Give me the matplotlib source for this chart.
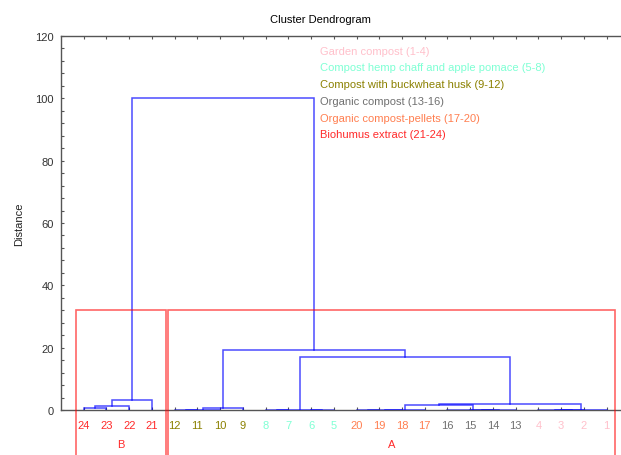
import matplotlib
matplotlib.use("Agg")
import matplotlib.pyplot as plt
from matplotlib.patches import Rectangle

plt.rcParams["font.family"] = ["Liberation Sans", "DejaVu Sans"]

# Leaf order along the x axis (sample numbers)
leaf_order = [24, 23, 22, 21, 12, 11, 10, 9, 8, 7, 6, 5,
              20, 19, 18, 17, 16, 15, 14, 13, 4, 3, 2, 1]

# Agglomeration steps: (new cluster, left child, right child, merge distance)
merge_names = ["b1", "b2", "B", "k1", "k2", "K", "h1", "h2", "H",
               "p1", "p2", "P", "o1", "o2", "O", "g1", "g2", "G",
               "PO", "POG", "HPOG", "A", "root"]
merge_left = [24, "b1", "b2", 12, "k1", "k2", 8, 6, "h1",
              20, "p1", "p2", 15, "o1", 16, 3, 4, "g2",
              "P", "PO", "H", "K", "B"]
merge_right = [23, 22, 21, 11, 10, 9, 7, 5, "h2",
               19, 18, 17, 14, 13, "o2", 2, "g1", 1,
               "O", "G", "POG", "HPOG", "A"]
merge_height = [0.8, 1.2, 3.3, 0.0, 0.15, 0.6, 0.0, 0.0, 0.12,
                0.0, 0.0, 0.12, 0.0, 0.0, 0.0, 0.0, 0.0, 0.12,
                1.7, 1.85, 16.9, 19.1, 100.0]

# Sample groups
group_names = ["Garden compost (1-4)",
               "Compost hemp chaff and apple pomace (5-8)",
               "Compost with buckwheat husk (9-12)",
               "Organic compost (13-16)",
               "Organic compost-pellets (17-20)",
               "Biohumus extract (21-24)"]
group_members = [[1, 2, 3, 4], [5, 6, 7, 8], [9, 10, 11, 12],
                 [13, 14, 15, 16], [17, 18, 19, 20], [21, 22, 23, 24]]
group_colors = ["#ffc0cb", "#7fffd4", "#8b8000", "#707070", "#ff7f50", "#ff2a2a"]

# Cut-level clusters shown as boxes
cut_height = 32.2
box_labels = ["B", "A"]
box_left = [0.67, 4.7]
box_right = [4.6, 24.37]

W, H = 621, 456
fig = plt.figure(figsize=(W / 100, H / 100), dpi=100)
ax = fig.add_axes([61 / W, 45 / H, 568.3 / W, 374 / H])

# positions and heights of leaves / clusters
pos = {leaf: i + 1 for i, leaf in enumerate(leaf_order)}
hgt = {leaf: 0.0 for leaf in leaf_order}
for name, l, r, h in zip(merge_names, merge_left, merge_right, merge_height):
    xl, xr = pos[l], pos[r]
    ax.plot([xl, xl, xr, xr], [hgt[l], h, h, hgt[r]],
            color="blue", alpha=0.7, lw=1.1,
            zorder=3 if h > 0 else 2, solid_joinstyle="miter")
    pos[name] = (xl + xr) / 2
    hgt[name] = h

# red cluster boxes extending below the axis
for lab, x0, x1 in zip(box_labels, box_left, box_right):
    ax.add_patch(Rectangle((x0, -30), x1 - x0, cut_height + 30, fill=False,
                           edgecolor="red", alpha=0.6, lw=1.2,
                           clip_on=False, zorder=4))
    ax.text((x0 + x1) / 2, -10.9, lab, color="#ff2a2a", fontsize=8,
            ha="center", va="center", clip_on=False)

ax.set_xlim(0, 25)
ax.set_ylim(0, 120)
ax.set_xticks(range(1, len(leaf_order) + 1))
ax.set_xticklabels([str(v) for v in leaf_order])
color_of = {}
for members, c in zip(group_members, group_colors):
    for m in members:
        color_of[m] = c
for lbl, leaf in zip(ax.get_xticklabels(), leaf_order):
    lbl.set_color(color_of[leaf])

ax.set_yticks(range(0, 121, 20))
ax.set_yticks(range(0, 121, 4), minor=True)
ax.tick_params(axis="x", direction="in", length=2.5, width=0.8,
               color="#555555", labelsize=8, pad=7, top=True)
ax.tick_params(axis="y", which="both", direction="in", length=2.5, width=0.8,
               color="#555555", labelsize=8, labelcolor="#333333", pad=5)
for side in ["left", "bottom", "top", "right"]:
    ax.spines[side].set_color("#555555")
    ax.spines[side].set_linewidth(1.0)

ax.set_ylabel("Distance", fontsize=8, color="#222222", labelpad=8)

fig.text(320 / W, 1 - 20 / H, "Cluster Dendrogram", fontsize=8,
         ha="center", va="center")

legend_y = [52.3, 68.3, 84.8, 101.7, 118.7, 135.5]
for name, c, yy in zip(group_names, group_colors, legend_y):
    fig.text(320 / W, 1 - yy / H, name, color=c, fontsize=8,
             ha="left", va="center")

fig.savefig("out.png", dpi=100)
